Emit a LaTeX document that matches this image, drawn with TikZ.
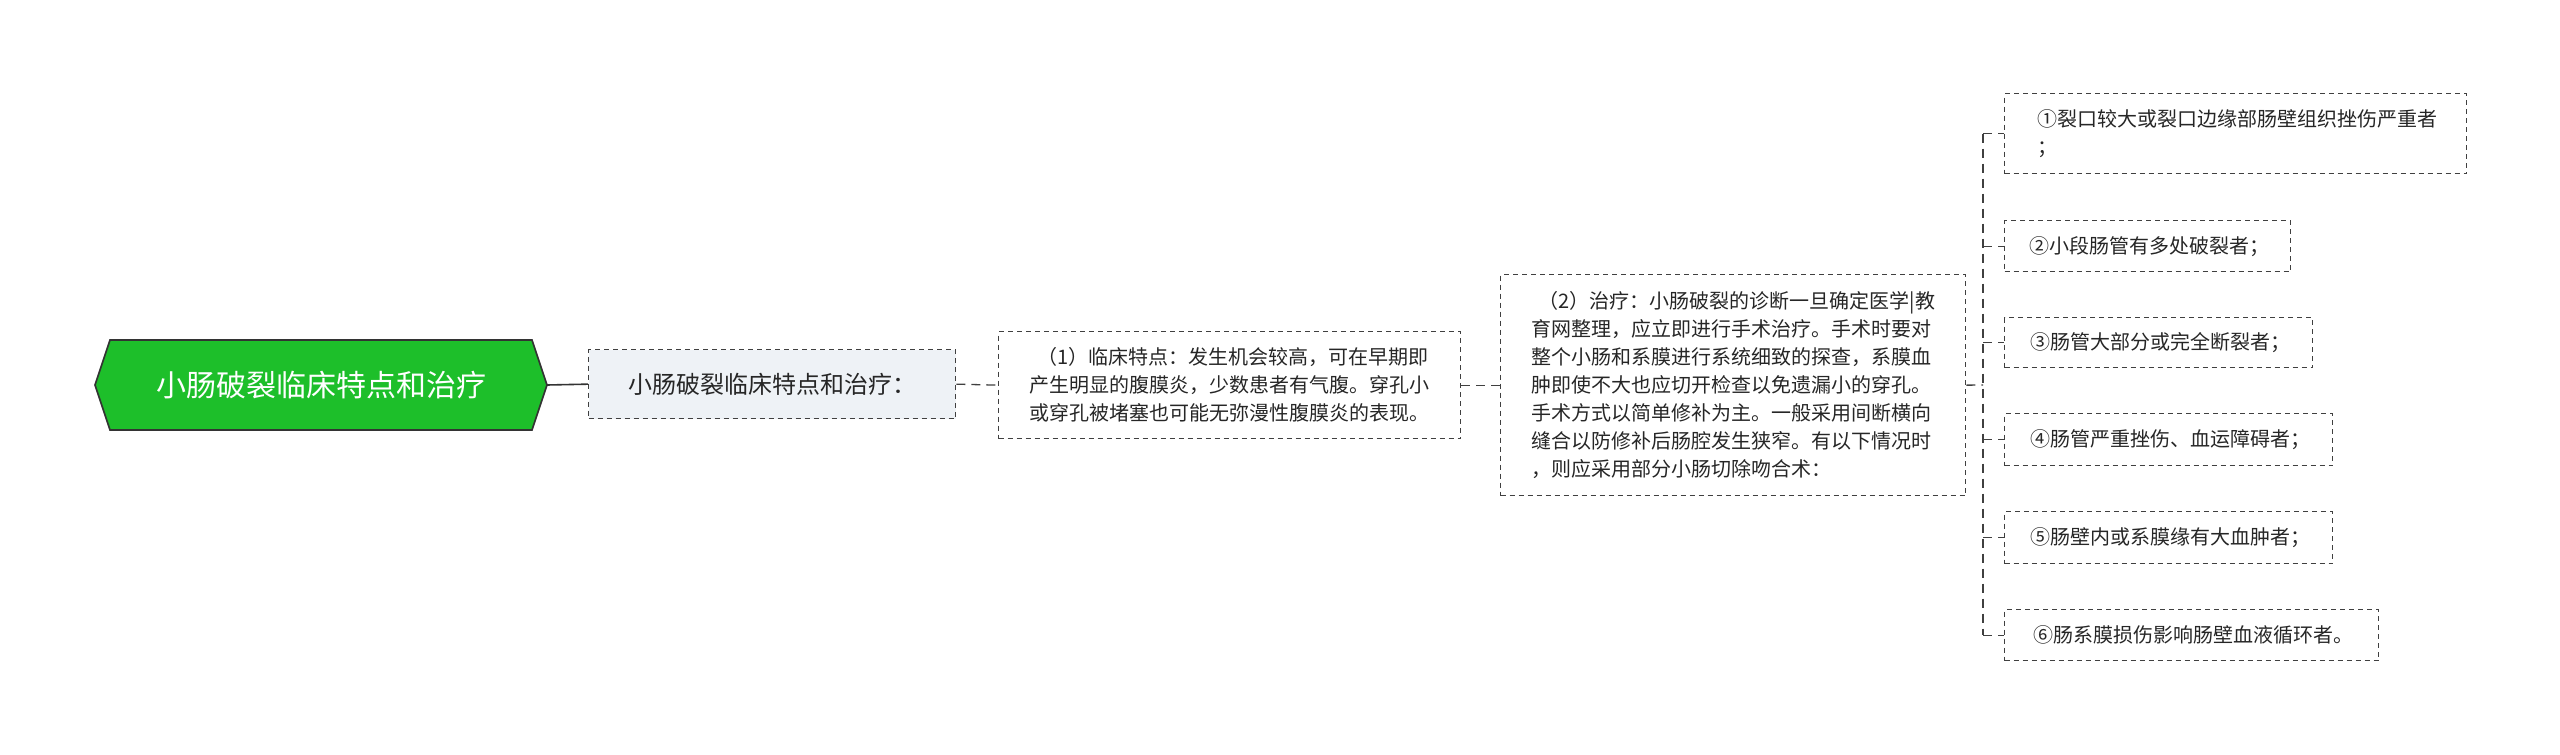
\documentclass[tikz,border=0pt]{standalone}
\usepackage{fontspec}
\setmainfont{Noto Sans CJK SC}
\usetikzlibrary{shapes.geometric}
\begin{document}
\begin{tikzpicture}[x=1pt,y=-1pt,
  box/.style={draw=black!75,dashed,dash pattern=on 5pt off 4pt,line width=1.3pt,align=left,font=\fontsize{20}{28}\selectfont,inner sep=0pt,anchor=north west,text=black!85},
  conn/.style={draw=black!75,dash pattern=on 9pt off 6pt,line width=1.3pt}]
\useasboundingbox (0,0) rectangle (2560,755);
\node[draw=black!80,line width=1.6pt,fill={rgb,255:red,29;green,191;blue,42},regular polygon,regular polygon sides=6,shape border rotate=0,minimum size=10pt] at (-1000,-1000) {};
% root hexagon
\coordinate (rA) at (95,385);
\draw[draw=black!80,line width=1.6pt,fill={rgb,255:red,29;green,191;blue,42}] (95,385)--(110,340)--(532,340)--(547,385)--(532,430)--(110,430)--cycle;
\node[text=white,font=\fontsize{30}{36}\selectfont] (root) at (321,385) {小肠破裂临床特点和治疗};
\coordinate (rootE) at (547,385);
\node[box,fill={rgb,255:red,238;green,242;blue,246},minimum width=367pt,minimum height=69pt,align=center,font=\fontsize{24}{30}\selectfont] (n2) at (588,349) {小肠破裂临床特点和治疗：};
\node[box,minimum width=462pt,minimum height=107pt,align=left] (n3) at (998,331) {\ \,（1）临床特点：发生机会较高，可在早期即\\产生明显的腹膜炎，少数患者有气腹。穿孔小\\或穿孔被堵塞也可能无弥漫性腹膜炎的表现。};
\node[box,minimum width=465pt,minimum height=221pt] (n4) at (1500,274) {\ \,（2）治疗：小肠破裂的诊断一旦确定医学|教\\育网整理，应立即进行手术治疗。手术时要对\\整个小肠和系膜进行系统细致的探查，系膜血\\肿即使不大也应切开检查以免遗漏小的穿孔。\\手术方式以简单修补为主。一般采用间断横向\\缝合以防修补后肠腔发生狭窄。有以下情况时\\，则应采用部分小肠切除吻合术：};
\node[box,minimum width=462pt,minimum height=80pt] (l1) at (2004,93) {\ ①裂口较大或裂口边缘部肠壁组织挫伤严重者\\\ ；};
\node[box,minimum width=286pt,minimum height=51pt] (l2) at (2004,220) {\ ②小段肠管有多处破裂者；};
\node[box,minimum width=308pt,minimum height=50pt] (l3) at (2004,317) {\ ③肠管大部分或完全断裂者；};
\node[box,minimum width=328pt,minimum height=52pt] (l4) at (2004,413) {\ ④肠管严重挫伤、血运障碍者；};
\node[box,minimum width=328pt,minimum height=52pt] (l5) at (2004,511) {\ ⑤肠壁内或系膜缘有大血肿者；};
\node[box,minimum width=374pt,minimum height=51pt] (l6) at (2004,609) {\ ⑥肠系膜损伤影响肠壁血液循环者。};
\draw[draw=black!80,line width=1.6pt] (rootE) -- (n2.west);
\draw[conn] (n2.east) -- (n3.west);
\draw[conn] (n3.east) -- (n4.west);
\coordinate (bx) at (1983,385);
\draw[conn] (n4.east) -- (bx);
\foreach \l in {l1,l2,l3,l4,l5,l6}{\draw[conn] (bx |- \l.west) -- (\l.west);}
\draw[conn] (bx |- l1.west) -- (bx |- l6.west);
\end{tikzpicture}
\end{document}
